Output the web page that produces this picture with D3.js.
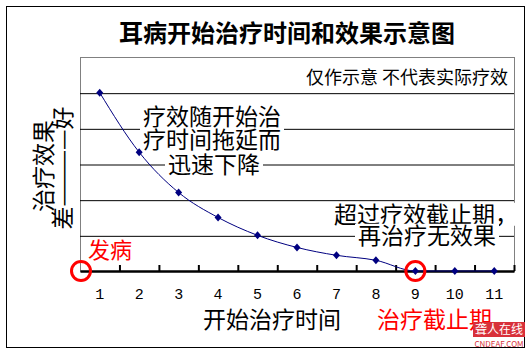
<!DOCTYPE html>
<html>
<head>
<meta charset="utf-8">
<script src="https://cdn.jsdelivr.net/npm/d3@7"></script>
<style>
 body { margin: 0; background: #fff; }
 text { font-family: "Noto Sans CJK SC", "Noto Sans", sans-serif; }
 .grid line { stroke: #000; stroke-width: 1; }
 .grid path { display: none; }
 .axis.x path { stroke: #000; stroke-width: 2.5; }
 .axis.x line { stroke: #000; stroke-width: 2; }
 .labels path { display: none; }
 .labels text { font-family: "Liberation Mono", monospace; font-size: 15px; fill: #000; }
</style>
</head>
<body>
<script>
 ///////////////////////////////////////////////////////
 // data

 var months = ["1", "2", "3", "4", "5", "6", "7", "8", "9", "10", "11"];
 var effect = [5.0, 3.33, 2.2, 1.5, 1.0, 0.66, 0.44, 0.3, 0, 0, 0];
 var gridValues = [1, 2, 3, 4, 5];
 var noteTop = ["疗效随开始治", "疗时间拖延而", "迅速下降"];
 var noteEnd = ["超过疗效截止期，", "再治疗无效果"];

 ///////////////////////////////////////////////////////
 // margins

 var w = 531;
 var h = 352;
 var svg = d3.select("body").append("svg")
   .attr("width", w)
   .attr("height", h),
   plot = { left: 80, right: 514, top: 57, bottom: 271 };

 ///////////////////////////////////////////////////////
 // scales

 var x = d3.scaleBand()
   .domain(months)
   .range([plot.left, plot.right]);
 var xEdge = d3.scaleLinear() // band edges, for the tick marks
   .domain([0, months.length])
   .range([plot.left, plot.right]);
 var y = d3.scaleLinear()
   .domain([0, 6])
   .range([plot.bottom, plot.top]);

 ///////////////////////////////////////////////////////
 // frame

 svg.append("rect")
   .attr("x", 6.5).attr("y", 6.5)
   .attr("width", 518).attr("height", 341)
   .attr("fill", "#fff")
   .attr("stroke", "#000");

 svg.append("text")
   .attr("x", 287).attr("y", 42)
   .attr("text-anchor", "middle")
   .style("font-size", "24px")
   .style("font-weight", "bold")
   .text("耳病开始治疗时间和效果示意图");

 svg.append("rect")
   .attr("x", plot.left + 0.5).attr("y", plot.top + 0.5)
   .attr("width", plot.right - plot.left).attr("height", plot.bottom - plot.top)
   .attr("fill", "none")
   .attr("stroke", "#808080");

 // gridlines
 svg.append("g")
   .classed("grid", true)
   .attr("transform", "translate(" + plot.left + ",0.5)")
   .call(d3.axisLeft(y).tickValues(gridValues).tickFormat("").tickSize(-(plot.right - plot.left)));

 svg.append("text")
   .attr("x", 508).attr("y", 84)
   .attr("text-anchor", "end")
   .style("font-size", "18px")
   .text("仅作示意 不代表实际疗效");

 ///////////////////////////////////////////////////////
 // notes with white boxes (they cut the gridlines)

 function note(lines, xs, ys, size) {
   lines.forEach(function(t, i) {
     var g = svg.append("g");
     var txt = g.append("text")
       .attr("x", xs[i]).attr("y", ys[i])
       .style("font-size", size + "px")
       .text(t);
     var bw = txt.node().getComputedTextLength();
     g.insert("rect", "text")
       .attr("x", xs[i] - 3).attr("y", ys[i] - size * 0.88)
       .attr("width", bw + 6).attr("height", size)
       .attr("fill", "#fff");
   });
 }
 note(noteTop, [143, 143, 168], [125, 148, 173], 23);
 note(noteEnd, [334, 358], [223, 244], 23);

 ///////////////////////////////////////////////////////
 // axes

 svg.append("g")
   .classed("axis x", true)
   .attr("transform", "translate(0," + plot.bottom + ")")
   .call(d3.axisBottom(xEdge).tickValues(d3.range(1, months.length + 1))
     .tickFormat("").tickSize(-6).tickSizeOuter(0));

 svg.append("g")
   .classed("labels", true)
   .attr("transform", "translate(0,288)")
   .call(d3.axisBottom(x).tickSize(0).tickPadding(0))
   .selectAll("text").attr("dy", "0.75em");

 ///////////////////////////////////////////////////////
 // plot

 var line = d3.line()
   .x(function(d, i) { return x(months[i]) + x.bandwidth() / 2; })
   .y(function(d) { return y(d); })
   .curve(d3.curveMonotoneX);

 svg.append("path")
   .datum(effect)
   .attr("d", line)
   .attr("fill", "none")
   .attr("stroke", "#000080")
   .attr("stroke-width", 1);

 svg.selectAll(".dot")
   .data(effect)
   .enter().append("path")
   .classed("dot", true)
   .attr("transform", function(d, i) {
     return "translate(" + (x(months[i]) + x.bandwidth() / 2) + "," + y(d) + ")";
   })
   .attr("d", "M0,-4L3.5,0L0,4L-3.5,0Z")
   .attr("fill", "#000080");

 // red circles: onset and cut-off
 [0, 8].forEach(function(k) {
   var cx = k === 0 ? plot.left + 1 : x(months[k]) + x.bandwidth() / 2;
   svg.append("circle")
     .attr("cx", cx).attr("cy", plot.bottom)
     .attr("r", 9.5)
     .attr("fill", "none")
     .attr("stroke", "#ff0000")
     .attr("stroke-width", 3);
 });

 ///////////////////////////////////////////////////////
 // titles

 svg.append("text")
   .attr("transform", "translate(52,166) rotate(-90)")
   .attr("text-anchor", "middle")
   .style("font-size", "23px")
   .text("治疗效果");
 svg.append("text")
   .attr("transform", "translate(71,168) rotate(-90)")
   .attr("text-anchor", "middle")
   .style("font-size", "23px")
   .text("差————好");

 svg.append("text")
   .attr("x", 88).attr("y", 258)
   .style("font-size", "22px")
   .attr("fill", "#ff0000")
   .text("发病");

 svg.append("text")
   .attr("x", 203).attr("y", 328)
   .style("font-size", "23px")
   .text("开始治疗时间");

 svg.append("text")
   .attr("x", 377).attr("y", 328)
   .style("font-size", "23px")
   .attr("fill", "#ff0000")
   .text("治疗截止期");

 // watermark
 svg.append("rect")
   .attr("x", 473).attr("y", 322)
   .attr("width", 52).attr("height", 15)
   .attr("fill", "#d8303a");
 svg.append("text")
   .attr("x", 499).attr("y", 334)
   .attr("text-anchor", "middle")
   .style("font-size", "12px")
   .attr("fill", "#fff")
   .text("聋人在线");
 svg.append("text")
   .attr("x", 499).attr("y", 347)
   .attr("text-anchor", "middle")
   .style("font-size", "8px")
   .attr("fill", "#d8303a")
   .text("CNDEAF.COM");
</script>
</body>
</html>
